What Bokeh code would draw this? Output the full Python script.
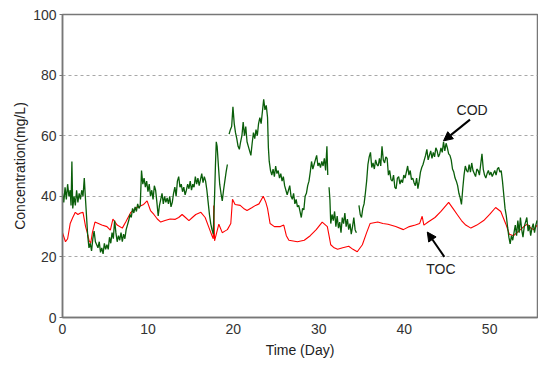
from bokeh.plotting import figure
from bokeh.models import ColumnDataSource, Range1d, Label, Arrow, NormalHead, FixedTicker
from bokeh.embed import file_html
from bokeh.resources import INLINE

nan = float("nan")

# ---- data ----
cod_day = [0.0, 0.15, 0.3, 0.45, 0.6, 0.75, 0.9, 1.0, 1.1, 1.2, 1.35, 1.5, 1.65, 1.8, 1.95, 2.1, 2.25, 2.4, 2.55, 2.65,
           2.8, 2.95, 3.1, 3.25, 3.4, 3.55, 3.7, 3.85, 4.0, 4.15, 4.3, 4.45, 4.6, 4.75, 4.9, 5.05, 5.2, 5.35, 5.5, 5.65,
           5.8, 5.95, 6.1, 6.25, 6.4, 6.55, 6.7, 6.85, 7.0, 7.15, 7.3, 7.45, 7.6, 7.75, 7.9, 8.05, 8.2, 8.35, 8.5, 8.65,
           8.8, 8.95, 9.1, 9.25, 9.4, 9.55, 9.7, 9.85, 10.0, 10.15, 10.3, 10.45, 10.6, 10.75, 10.9, 11.05, 11.2, 11.35, 11.5, 11.65,
           11.8, 11.95, 12.1, 12.25, 12.4, 12.55, 12.7, 12.85, 13.0, 13.15, 13.3, 13.45, 13.6, 13.75, 13.9, 14.05, 14.2, 14.35, 14.5, 14.65,
           14.8, 14.95, 15.1, 15.25, 15.4, 15.55, 15.7, 15.85, 16.0, 16.15, 16.3, 16.45, 16.6, 16.75, 16.9, 17.05, 17.2, 17.35, 17.5, 17.65,
           17.8, 17.9, 18.0, 18.1, 18.25, 18.4, 18.55, 18.7, 18.85, 19.0, 19.15, 19.3, 19.4,
           19.5, 19.65, 19.8, 19.95, 20.1, 20.25, 20.4, 20.55, 20.7, 20.85, 21.0, 21.15, 21.3, 21.45, 21.6, 21.75, 21.9, 22.05, 22.2, 22.35,
           22.5, 22.65, 22.8, 22.95, 23.1, 23.25, 23.4, 23.55, 23.7, 23.85, 24.0, 24.1, 24.2, 24.35, 24.5, 24.65, 24.8, 24.95, 25.1, 25.25,
           25.4, 25.55, 25.7, 25.85, 26.0, 26.15, 26.3, 26.45, 26.6, 26.75, 26.9, 27.05, 27.2, 27.35, 27.5, 27.65, 27.8, 27.95, 28.1, 28.25,
           28.4, 28.55, 28.7, 28.85, 29.0, 29.15, 29.3, 29.45, 29.6, 29.75, 29.9, 30.05, 30.2, 30.35, 30.5, 30.65, 30.8, 30.95, 31.05, 31.12,
           31.2, 31.3, 31.4, 31.55, 31.7, 31.85, 32.0, 32.15, 32.3, 32.45, 32.6, 32.75, 32.9, 33.05, 33.2, 33.35, 33.5, 33.65, 33.8, 33.95,
           34.1, 34.25, 34.4, 34.55,
           34.7, 34.85, 35.0, 35.15, 35.3, 35.45, 35.6, 35.75, 35.9, 36.05, 36.2, 36.35, 36.5, 36.65, 36.8, 36.95, 37.1, 37.25, 37.4, 37.55,
           37.7, 37.85, 38.0, 38.15, 38.3, 38.45, 38.6, 38.75, 38.9, 39.05, 39.2, 39.35, 39.5, 39.65, 39.8, 39.95, 40.1, 40.25, 40.4, 40.55,
           40.7, 40.85, 41.0, 41.15, 41.3, 41.45, 41.6, 41.75, 41.9, 42.05, 42.2, 42.35, 42.5, 42.65, 42.8, 42.95, 43.1, 43.25, 43.4, 43.55,
           43.7, 43.85, 44.0, 44.15, 44.3, 44.45, 44.6, 44.75, 44.9, 45.05, 45.2, 45.35, 45.5, 45.65, 45.8, 45.95, 46.1, 46.25, 46.4, 46.55,
           46.7, 46.85, 47.0, 47.15, 47.3, 47.45, 47.6, 47.75, 47.9, 48.05, 48.2, 48.35, 48.5, 48.65, 48.8, 48.95, 49.1, 49.25, 49.4, 49.55,
           49.7, 49.85, 50.0, 50.15, 50.3, 50.45, 50.6, 50.75, 50.9, 51.05, 51.2, 51.35, 51.5, 51.65, 51.8, 51.95, 52.1, 52.25, 52.4, 52.55,
           52.7, 52.85, 53.0, 53.15, 53.3, 53.45, 53.6, 53.75, 53.9, 54.05, 54.2, 54.35, 54.5, 54.65, 54.8, 54.95, 55.1, 55.25, 55.4, 55.55]

cod_val = [41, 38, 43, 39, 44, 40, 42, 37, 51.5, 36, 40, 37, 42, 38, 41, 39, 42, 40, 46, 41,
           34, 27, 23, 24.5, 22, 26, 28.5, 25, 24, 23, 25, 21.5, 23, 21, 24.5, 22.5, 24, 22.5, 26.5, 24.5,
           28, 26, 32, 28, 25, 27, 25.5, 28, 25, 27.5, 26, 29, 30.5, 32, 34, 33, 36, 34.5, 36.5, 35,
           37.5, 36, 37, 48.5, 44, 46, 43, 45, 41.5, 44, 40, 42, 39, 43.5, 42, 38, 33.5, 37, 39, 41,
           37.5, 40, 38, 39.5, 37.5, 40, 36.5, 38, 41, 43, 40, 45, 46.5, 43, 44, 41.5, 43, 40.5, 42, 44,
           42.5, 45, 42, 44, 43, 46.5, 44, 46, 43.5, 45.5, 47.5, 44.5, 46.5, 45, 42, 38, 34, 31, 29, 27.5,
           40, 50, 58, 56.5, 50, 44, 41, 38.5, 42, 45, 48, 50.5, nan,
           60.5, 62, 63, 69.5, 64, 61, 59, 56.5, 55.5, 58, 60, 64.5, 60, 63, 58, 56.5, 55, 53.5, 57.5, 61,
           59, 62, 60, 64, 66, 64, 68, 72, 68.5, 70, 66, 56, 51.5, 48.5, 47, 49, 46.5, 50, 47.5, 48.5,
           46, 47.5, 45, 46.5, 43.5, 42, 40.5, 42, 43.5, 40, 39, 41, 37.5, 39, 36.5, 37, 35, 33, 36, 35.5,
           40, 41, 43.5, 45, 48, 51.5, 49, 50.5, 52, 53.5, 50, 51, 49.5, 51.5, 50, 52.5, 48.5, 56.5, 47, nan,
           43, 39, 31, 34, 32, 35, 30, 33.5, 29.5, 31.5, 28, 33, 31, 34.5, 30, 32.5, 29, 31, 27.5, 30,
           33, 29, 28, nan,
           37, 34, 33, 36, 37.5, 41, 45, 50.5, 53, 54.5, 49.5, 51, 49, 52, 50.5, 50, 52.5, 50, 56.5, 52,
           51, 53, 52.5, 47, 48.5, 45.5, 45, 47, 43, 42.5, 46, 46.5, 44, 45.5, 44.5, 47, 46, 48, 50, 47,
           48.5, 45.5, 46, 44.5, 43.5, 46, 42.5, 45, 48, 49.5, 50.5, 52, 53.5, 55.5, 52, 53.5, 55, 52.5, 54.5, 53,
           56, 55, 53, 54, 56, 54.5, 58, 55, 57.5, 56, 54, 53.5, 52, 49, 48, 46, 45, 43.5, 41, 39.5,
           37.3, 42.5, 47, 50, 48.5, 48, 50.5, 48, 51, 48.5, 47.5, 46.5, 49, 48.5, 47, 50.5, 54, 49, 47, 46,
           47.5, 48.5, 47, 48, 46.5, 47.5, 48.5, 47, 49, 49.5, 48, 48.5, 45, 40.5, 36, 33.5, 29.8, 26.5, 24.3, 27,
           25.5, 28, 30.5, 27, 32, 28, 33, 29, 26.5, 30, 31.5, 33, 28.5, 30.5, 27, 29.5, 31, 28, 30.5, 32]

toc_day = [0.0, 0.35, 0.6, 0.9, 1.2, 1.5, 1.8, 2.1, 2.4, 2.7, 2.9, 3.1, 3.3, 3.5, 3.8, 4.2, 4.6, 5.2, 5.6, 5.9,
           6.4, 7.0, 7.4, 8.0, 8.7, 9.5, 9.9, 10.3, 10.7, 11.1, 11.5, 12.0, 12.6, 13.2, 13.6, 14.0, 14.4, 14.8, 15.2, 15.6,
           16.2, 16.7, 17.1, 17.5, 17.65, 17.7, 17.8, 18.3, 18.7, 19.0, 19.3, 19.7, 19.9, 20.2, 20.8, 21.2, 21.6, 22.2, 22.6, 23.0,
           23.5, 23.8, 24.0, 24.3, 24.8, 25.5, 25.9, 26.2, 26.5, 27.5, 28.3, 29.0, 29.7, 30.4, 31.0, 31.2, 31.4, 31.8, 32.2, 32.8,
           33.5, 34.0, 34.5, 35.1, 35.6, 36.0, 36.9, 37.5, 38.1, 39.0, 39.9, 40.6, 41.3, 41.8, 42.1, 42.3, 42.8, 43.6, 44.3, 45.2,
           45.7, 46.2, 46.7, 47.2, 47.8, 48.5, 49.3, 50.0, 50.7, 51.3, 51.9, 52.3, 52.8, 53.2, 53.6, 54.0, 54.4, 54.8, 55.2, 55.55]

toc_val = [28, 25, 26, 31, 33, 34.7, 34, 34.5, 34.7, 30, 28, 25.5, 24.5, 28, 31.5, 31, 30.5, 30, 28.8, 32.5,
           30.5, 29.5, 31.5, 34.7, 36.3, 37.3, 38.5, 35.3, 34, 32.5, 31.5, 32, 32.5, 32.4, 33, 34, 33, 32, 33, 34,
           34.7, 33, 30, 27, 26, 37, 25.3, 30.8, 28, 28.5, 29, 31, 39, 37.3, 37, 36, 35.3, 36.3, 37, 37.5,
           40, 38, 36, 31, 30, 30, 30.5, 27, 25.5, 25, 25.5, 27, 29, 31.5, 30, 27, 24, 23, 22.5, 23,
           23.5, 22.5, 21.7, 24, 28, 31, 31.5, 31, 30.8, 30, 29, 30, 30.5, 31, 33.4, 30.5, 31.5, 33, 35, 38,
           36, 34, 32, 30.5, 29.5, 30.5, 32, 34, 36.3, 35, 30.8, 27.5, 27, 28, 29, 30, 30.8, 29.5, 29, 30.5]

x_ticks = [0, 10, 20, 30, 40, 50]
y_ticks = [0, 20, 40, 60, 80, 100]

# annotation anchors (data units)
cod_label = (47.95, 68.5)
cod_arrow = (47.7, 65.3, 44.6, 58.3)
toc_label = (44.3, 16.0)
toc_arrow = (44.7, 20.0, 42.7, 28.2)

FONT = "Liberation Sans"

p = figure(width=538, height=360, output_backend="svg", toolbar_location=None,
           x_range=Range1d(0, 55.6), y_range=Range1d(0, 100),
           min_border_left=62, min_border_right=1, min_border_top=14, min_border_bottom=38)
p.background_fill_color = "white"
p.border_fill_color = "white"
p.outline_line_color = "#777777"
p.outline_line_width = 1.5

p.line(toc_day, toc_val, line_color="#ff0000", line_width=1.1)
p.line(cod_day, cod_val, line_color="#0a5e0a", line_width=1.3)

p.xgrid.visible = False
p.ygrid.grid_line_color = "#a8a8a8"
p.ygrid.grid_line_dash = "3 3"
p.ygrid.grid_line_width = 1

p.xaxis.ticker = FixedTicker(ticks=x_ticks)
p.yaxis.ticker = FixedTicker(ticks=y_ticks)
for ax in (p.xaxis[0], p.yaxis[0]):
    ax.axis_line_color = "#777777"
    ax.axis_line_width = 1.5
    ax.minor_tick_line_color = None
    ax.major_tick_in = 0
    ax.major_tick_line_color = "#777777"
    ax.major_label_text_font = FONT
    ax.major_label_text_font_size = "14px"
    ax.major_label_text_color = "#333333"
    ax.axis_label_text_font = FONT
    ax.axis_label_text_font_size = "14px"
    ax.axis_label_text_font_style = "normal"
    ax.axis_label_text_color = "#222222"

p.xaxis.major_tick_out = 0
p.xaxis.major_label_standoff = 6
p.xaxis.axis_label = "Time (Day)"
p.xaxis.axis_label_standoff = 5
p.yaxis.major_tick_out = 3
p.yaxis.major_label_standoff = 3
p.yaxis.axis_label = "Concentration(mg/L)"
p.yaxis.axis_label_standoff = 2

p.add_layout(Label(x=cod_label[0], y=cod_label[1], text="COD", text_align="center", text_baseline="middle",
                   text_font=FONT, text_font_size="14px", text_color="#222222"))
p.add_layout(Label(x=toc_label[0], y=toc_label[1], text="TOC", text_align="center", text_baseline="middle",
                   text_font=FONT, text_font_size="14px", text_color="#222222"))
p.add_layout(Arrow(x_start=cod_arrow[0], y_start=cod_arrow[1], x_end=cod_arrow[2], y_end=cod_arrow[3],
                   line_width=2, line_color="black",
                   end=NormalHead(size=9, fill_color="black", line_color="black")))
p.add_layout(Arrow(x_start=toc_arrow[0], y_start=toc_arrow[1], x_end=toc_arrow[2], y_end=toc_arrow[3],
                   line_width=2, line_color="black",
                   end=NormalHead(size=9, fill_color="black", line_color="black")))

open("out.html", "w").write(file_html(p, INLINE))
